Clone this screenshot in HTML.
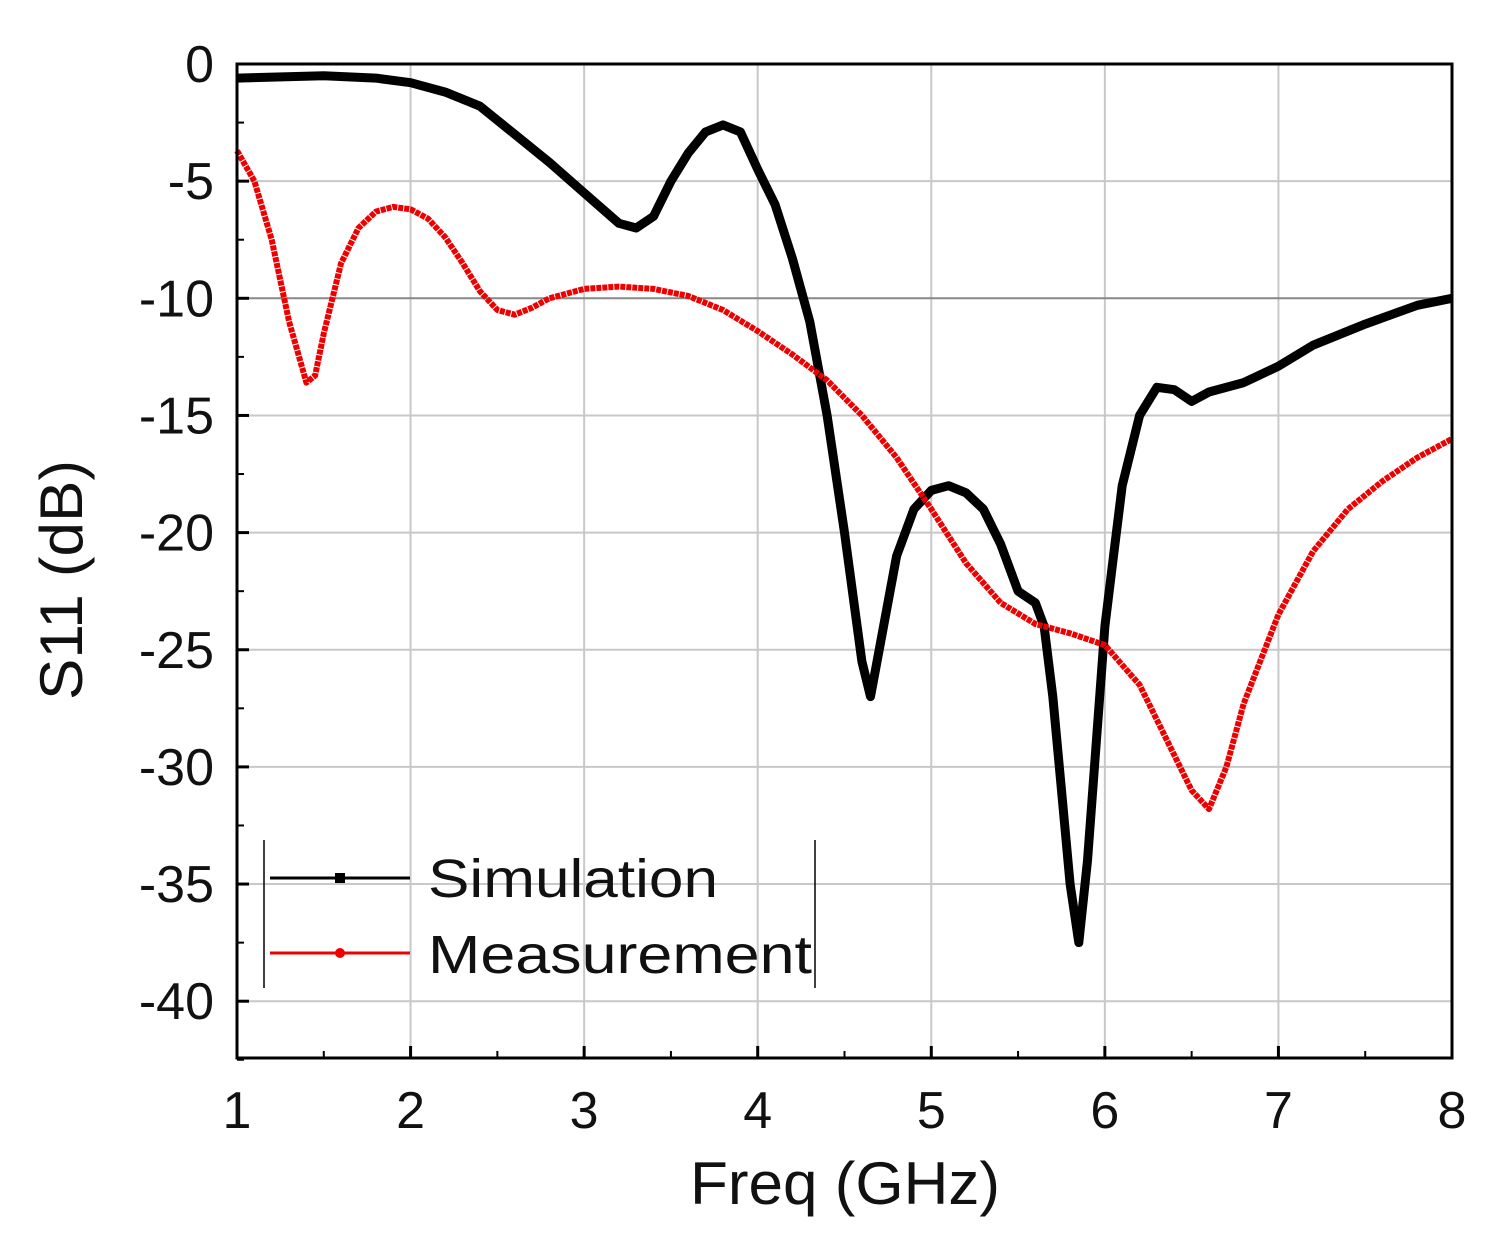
<!DOCTYPE html>
<html><head><meta charset="utf-8"><style>
html,body{margin:0;padding:0;background:#fff;width:1502px;height:1248px;overflow:hidden}
svg text{font-family:"Liberation Sans",Arial,sans-serif;fill:#111}
</style></head><body>
<svg id="chart" width="1502" height="1248" xmlns="http://www.w3.org/2000/svg">
<g id="grid"></g>
<g id="ticks"></g>
<g id="series"></g>
<rect x="237" y="64" width="1215" height="994" fill="none" stroke="#000" stroke-width="3"/>
<text x="845" y="1204" font-size="60" text-anchor="middle" textLength="310" lengthAdjust="spacingAndGlyphs">Freq (GHz)</text>
<text transform="translate(82,580) rotate(-90)" font-size="60" text-anchor="middle" textLength="240" lengthAdjust="spacingAndGlyphs">S11 (dB)</text>
<g>
<line x1="264" y1="840" x2="264" y2="988" stroke="#000" stroke-width="1.5"/>
<line x1="815" y1="840" x2="815" y2="988" stroke="#000" stroke-width="1.5"/>
<g>
<line x1="270" y1="878" x2="410" y2="878" stroke="#000" stroke-width="3"/>
<rect x="335" y="873" width="10" height="10" fill="#000"/>
<text x="428" y="897" font-size="54" textLength="290" lengthAdjust="spacingAndGlyphs">Simulation</text></g>
<g>
<line x1="270" y1="953" x2="410" y2="953" stroke="#e00" stroke-width="3"/>
<circle cx="340" cy="953" r="5" fill="#e00"/>
<text x="428" y="973" font-size="54" textLength="384" lengthAdjust="spacingAndGlyphs">Measurement</text></g>
</g>
</svg>
<script>
const simFreq=[1,1.5,1.8,2.0,2.2,2.4,2.6,2.8,3.0,3.2,3.3,3.4,3.5,3.6,3.7,3.8,3.9,4.0,4.1,4.2,4.3,4.4,4.5,4.6,4.65,4.7,4.8,4.9,5.0,5.1,5.2,5.3,5.4,5.5,5.6,5.65,5.7,5.75,5.8,5.85,5.9,5.95,6.0,6.05,6.1,6.2,6.3,6.4,6.5,6.6,6.8,7.0,7.2,7.5,7.8,8];
const simDb=[-0.6,-0.5,-0.6,-0.8,-1.2,-1.8,-3,-4.2,-5.5,-6.8,-7.0,-6.5,-5,-3.8,-2.9,-2.6,-2.9,-4.5,-6,-8.3,-11,-15,-20,-25.5,-27,-25,-21,-19,-18.2,-18,-18.3,-19,-20.5,-22.5,-23,-24,-27,-31,-35,-37.5,-34,-29,-24,-21,-18,-15,-13.8,-13.9,-14.4,-14,-13.6,-12.9,-12,-11.1,-10.3,-10];
const measFreq=[1,1.1,1.2,1.3,1.4,1.45,1.5,1.6,1.7,1.8,1.9,2.0,2.1,2.2,2.3,2.4,2.5,2.6,2.7,2.8,3.0,3.2,3.4,3.6,3.8,4.0,4.2,4.4,4.6,4.8,5.0,5.2,5.4,5.6,5.8,6.0,6.2,6.4,6.5,6.6,6.7,6.8,7.0,7.2,7.4,7.6,7.8,8];
const measDb=[-3.7,-5,-7.5,-11,-13.6,-13.3,-11.5,-8.5,-7,-6.3,-6.1,-6.2,-6.6,-7.4,-8.5,-9.7,-10.5,-10.7,-10.4,-10,-9.6,-9.5,-9.6,-9.9,-10.5,-11.4,-12.4,-13.5,-15,-16.8,-19,-21.3,-23,-23.9,-24.3,-24.8,-26.5,-29.5,-31,-31.8,-30,-27.3,-23.5,-20.8,-19,-17.8,-16.8,-16];
const xTicks=[1,2,3,4,5,6,7,8];
const yTicks=[0,-5,-10,-15,-20,-25,-30,-35,-40];
const NS='http://www.w3.org/2000/svg';
const X=f=>237+(f-1)*(1215/7);
const Y=d=>64-d*23.43;
function mk(t,a,p){const e=document.createElementNS(NS,t);for(const k in a)e.setAttribute(k,a[k]);p.appendChild(e);return e;}
const grid=document.getElementById('grid'),ticks=document.getElementById('ticks'),ser=document.getElementById('series');
xTicks.forEach(v=>{
 const l=mk('line',{x1:X(v),x2:X(v),y1:64,y2:1058,stroke:'#c8c8c8','stroke-width':2},grid);
 
 
 mk('line',{x1:X(v),x2:X(v),y1:1058,y2:1046,stroke:'#000','stroke-width':3},ticks);
 if(v<8)mk('line',{x1:X(v+0.5),x2:X(v+0.5),y1:1058,y2:1051,stroke:'#000','stroke-width':2},ticks);
 const t=mk('text',{x:X(v),y:1128,'font-size':52,'text-anchor':'middle'},ticks);
 t.textContent=v;
 
 
});
yTicks.forEach(v=>{
 const l=mk('line',{x1:237,x2:1452,y1:Y(v),y2:Y(v),stroke:v===-10?'#888':'#c8c8c8','stroke-width':2},grid);
 
 
 mk('line',{x1:237,x2:249,y1:Y(v),y2:Y(v),stroke:'#000','stroke-width':3},ticks);
 mk('line',{x1:237,x2:244,y1:Y(v-2.5),y2:Y(v-2.5),stroke:'#000','stroke-width':2},ticks);
 const t=mk('text',{x:214,y:Y(v)+18,'font-size':52,'text-anchor':'end'},ticks);
 t.textContent=v;
 
 
});
function path(fx,dy){return fx.map((f,i)=>(i?'L':'M')+X(f).toFixed(1)+','+Y(dy[i]).toFixed(1)).join(' ');}
const s=mk('path',{d:path(simFreq,simDb),fill:'none',stroke:'#000','stroke-width':9,'stroke-linejoin':'round'},ser);


const m=mk('path',{d:path(measFreq,measDb),fill:'none',stroke:'#e00','stroke-width':6,'stroke-linejoin':'round','stroke-dasharray':'5 1'},ser);


</script>
</body></html>
